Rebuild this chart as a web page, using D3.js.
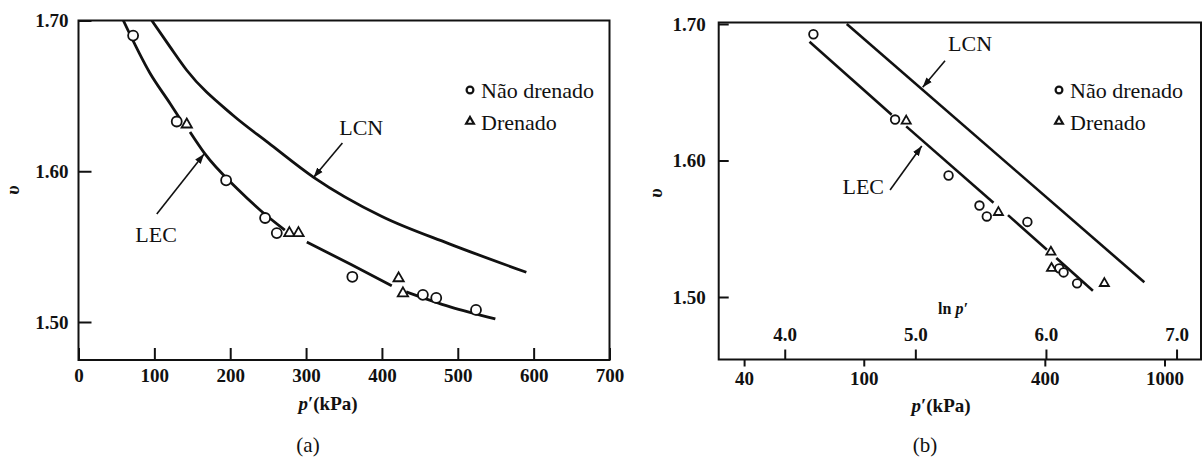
<!DOCTYPE html>
<html>
<head>
<meta charset="utf-8">
<script src="https://cdn.jsdelivr.net/npm/d3@7"></script>
<style>
  body { margin: 0; background: #fff; }
  svg { display: block; }
  svg text { font-family: "Liberation Serif", "DejaVu Serif", serif !important; fill: #111; }
  .tick line { stroke: #111; stroke-width: 2; }
  .tick text { font-size: 19px; font-weight: bold; }
</style>
</head>
<body>
<svg id="chart" width="1203" height="459" font-family="Liberation Serif"></svg>
<script>
// ---- dados ----

// eixos
const yTicks = [1.50, 1.60, 1.70];
const xTicksA = [0, 100, 200, 300, 400, 500, 600, 700];
const xTicksB = [40, 100, 400, 1000];
const lnTicksB = [4.0, 5.0, 6.0, 7.0];

// (a) p' (kPa) x v
const naoDrenadoA = [[72, 1.690], [129.5, 1.633], [194.6, 1.594], [246, 1.569], [261.4, 1.559],
                     [361, 1.530], [454, 1.518], [471.6, 1.516], [524, 1.508]];
const drenadoA = [[142.7, 1.631], [278, 1.559], [290, 1.559], [422, 1.529], [427.7, 1.519]];
// LEC desenhada com interrupções onde estão os pontos
const lecA = [
    [[59.1, 1.700], [94.3, 1.665], [120.7, 1.645], [133.6, 1.635]],
    [[147, 1.626], [166, 1.612], [210, 1.588], [240, 1.574], [272, 1.561]],
    [[301, 1.553], [360, 1.538], [413, 1.524]],
    [[432, 1.520], [490, 1.510], [549.5, 1.502]]
];
const lcnA = [[96.6, 1.700], [120, 1.683], [142.7, 1.667], [204, 1.637], [250, 1.619],
              [310, 1.596], [400, 1.570], [488, 1.552], [590.4, 1.533]];

// (b) p' (kPa, escala ln) x v
const naoDrenadoB = [[68, 1.6925], [127.1, 1.630], [191.4, 1.589], [242.5, 1.567], [256.5, 1.559],
                     [350, 1.555], [446.6, 1.521], [461.7, 1.518], [512, 1.510]];
const drenadoB = [[138.4, 1.629], [280.4, 1.562], [419, 1.533], [421, 1.521], [631, 1.510]];
const lecB = [
    [[66, 1.687], [123.8, 1.6335]],
    [[138.4, 1.625], [270, 1.569]],
    [[301.7, 1.560], [406.5, 1.5346]],
    [[436.8, 1.5286], [578, 1.5046]]
];
const lcnB = [[87.8, 1.700], [857, 1.5108]];

// setas e rótulos (coordenadas nos dados)
const rotulosA = [
    { text: "LEC", at: [102.3, 1.558], from: [103.2, 1.5716], to: [165.6, 1.6115] },
    { text: "LCN", at: [372.7, 1.6294], from: [347.9, 1.6187], to: [309.8, 1.5959] }
];
const rotulosB = [
    { text: "LEC", at: [99.6, 1.5813], from: [122.3, 1.5784], to: [155.9, 1.6106] },
    { text: "LCN", at: [225.6, 1.6859], from: [186.3, 1.6731], to: [157.0, 1.6536] }
];

const legenda = ["Não drenado", "Drenado"];

// ---- desenho ----
const FONTE = "Liberation Serif, DejaVu Serif, serif";
const svg = d3.select("#chart");

// ponta de seta
svg.append("defs").append("marker")
    .attr("id", "seta")
    .attr("viewBox", "0 0 10 10")
    .attr("refX", 10).attr("refY", 5)
    .attr("markerWidth", 10).attr("markerHeight", 10)
    .attr("markerUnits", "userSpaceOnUse")
    .attr("orient", "auto")
    .append("path")
    .attr("d", "M0,1.5 L10,5 L0,8.5 Z")
    .attr("fill", "#111");

function drawPanel(cfg)
{
    const g = svg.append("g");
    const { x, y, frame } = cfg;

    // clip para as curvas
    const clipId = "clip-" + cfg.name;
    svg.select("defs").append("clipPath").attr("id", clipId)
        .append("rect")
        .attr("x", frame.left).attr("y", frame.top)
        .attr("width", frame.right - frame.left).attr("height", frame.bottom - frame.top);

    // eixo y (marcas para dentro)
    g.append("g")
        .attr("transform", `translate(${frame.left},0)`)
        .call(d3.axisLeft(y).tickValues(yTicks).tickSizeInner(-cfg.yTickLen).tickSizeOuter(0)
            .tickPadding(cfg.yPad).tickFormat(d3.format(".2f")))
        .call(a => a.select(".domain").remove());

    cfg.xAxes(g);

    // moldura
    g.append("rect")
        .attr("x", frame.left).attr("y", frame.top)
        .attr("width", frame.right - frame.left).attr("height", frame.bottom - frame.top)
        .attr("fill", "none").attr("stroke", "#111").attr("stroke-width", 2);

    const line = d3.line()
        .x(d => x(d[0]))
        .y(d => y(d[1]))
        .curve(d3.curveMonotoneX);

    const curvas = g.append("g").attr("clip-path", `url(#${clipId})`);

    // LCN
    curvas.append("path")
        .attr("d", line(cfg.lcn))
        .attr("fill", "none").attr("stroke", "#111").attr("stroke-width", cfg.lineW);

    // LEC
    cfg.lec.forEach(seg => {
        curvas.append("path")
            .attr("d", line(seg))
            .attr("fill", "none").attr("stroke", "#111").attr("stroke-width", cfg.lineW);
    });

    // pontos não drenados
    g.selectAll(null).data(cfg.naoDrenado).join("circle")
        .attr("cx", d => x(d[0]))
        .attr("cy", d => y(d[1]))
        .attr("r", cfg.r)
        .attr("fill", "#fff").attr("stroke", "#111").attr("stroke-width", 1.8);

    // pontos drenados
    const tri = d3.symbol(d3.symbolTriangle, cfg.triSize);
    g.selectAll(null).data(cfg.drenado).join("path")
        .attr("d", tri)
        .attr("transform", d => `translate(${x(d[0])},${y(d[1])})`)
        .attr("fill", "#fff").attr("stroke", "#111").attr("stroke-width", 1.8);

    // rótulos com seta
    cfg.rotulos.forEach(r => {
        g.append("line")
            .attr("x1", x(r.from[0])).attr("y1", y(r.from[1]))
            .attr("x2", x(r.to[0])).attr("y2", y(r.to[1]))
            .attr("stroke", "#111").attr("stroke-width", 1.6)
            .attr("marker-end", "url(#seta)");
        g.append("text")
            .attr("x", x(r.at[0])).attr("y", y(r.at[1]))
            .attr("dy", "0.35em")
            .attr("text-anchor", "middle")
            .attr("font-size", 22)
            .text(r.text);
    });

    // legenda
    const leg = g.append("g").attr("transform", `translate(${cfg.legend[0]},${cfg.legend[1]})`);
    leg.append("circle")
        .attr("cx", 0).attr("cy", 0).attr("r", 3.4)
        .attr("fill", "#fff").attr("stroke", "#111").attr("stroke-width", 2.2);
    leg.append("path")
        .attr("d", d3.symbol(d3.symbolTriangle, 26)())
        .attr("transform", "translate(0,31.5)")
        .attr("fill", "#fff").attr("stroke", "#111").attr("stroke-width", 2.2);
    legenda.forEach((t, i) => {
        leg.append("text")
            .attr("x", 11).attr("y", i * 31.5 + 8)
            .attr("font-size", 22)
            .text(t);
    });

    // título do eixo y
    g.append("text")
        .attr("transform", `translate(${cfg.yLabel[0]},${cfg.yLabel[1]}) rotate(-90)`)
        .attr("text-anchor", "middle")
        .attr("dy", "0.35em")
        .attr("font-size", 19).attr("font-weight", "bold").attr("font-style", "italic")
        .text("υ");

    // título do eixo x
    const xt = g.append("text")
        .attr("x", cfg.xLabel[0]).attr("y", cfg.xLabel[1])
        .attr("text-anchor", "middle")
        .attr("font-size", 19).attr("font-weight", "bold");
    xt.append("tspan").attr("font-style", "italic").text("p");
    xt.append("tspan").text("′(kPa)");

    // legenda do painel
    g.append("text")
        .attr("x", cfg.caption[0]).attr("y", cfg.caption[1])
        .attr("text-anchor", "middle")
        .attr("font-size", 21)
        .text(cfg.name === "a" ? "(a)" : "(b)");

    // fonte serifada em todos os textos (os eixos do d3 usam sans-serif)
    g.selectAll("g").attr("font-family", FONTE);
    g.selectAll("text").attr("font-family", FONTE);
}

// painel (a): escala linear
const frameA = { left: 78.5, right: 609.5, top: 20.5, bottom: 360 };
const xA = d3.scaleLinear().domain([0, 700]).range([78.5, 609.5]);
const yA = d3.scaleLinear().domain([1.50, 1.70]).range([322, 20.5]);

drawPanel({
    name: "a", x: xA, y: yA, frame: frameA,
    yTickLen: 13, yPad: 10, lineW: 2.8, r: 5, triSize: 46,
    lcn: lcnA, lec: lecA, naoDrenado: naoDrenadoA, drenado: drenadoA, rotulos: rotulosA,
    legend: [470, 90], yLabel: [12, 190], xLabel: [328, 410], caption: [308, 452],
    xAxes: g => {
        g.append("g")
            .attr("transform", `translate(0,${frameA.bottom})`)
            .call(d3.axisBottom(xA).tickValues(xTicksA).tickSizeInner(-12).tickSizeOuter(0)
                .tickPadding(9).tickFormat(d3.format("d")))
            .call(a => a.select(".domain").remove());
    }
});

// painel (b): escala logarítmica em p' com ln p' no topo do eixo
const frameB = { left: 718.7, right: 1201, top: 22.5, bottom: 359.5 };
const xB = d3.scaleLog().domain([40, 1000]).range([744.1, 1164.5]);
const yB = d3.scaleLinear().domain([1.50, 1.70]).range([297, 24]);
const lnB = d3.scaleLinear().domain([4, 7]).range([xB(Math.exp(4)), xB(Math.exp(7))]);

drawPanel({
    name: "b", x: xB, y: yB, frame: frameB,
    yTickLen: 10, yPad: 13, lineW: 2.6, r: 4.3, triSize: 36,
    lcn: lcnB, lec: lecB, naoDrenado: naoDrenadoB, drenado: drenadoB, rotulos: rotulosB,
    legend: [1059, 90], yLabel: [655, 193], xLabel: [941, 412], caption: [925, 452],
    xAxes: g => {
        g.append("g")
            .attr("transform", `translate(0,${frameB.bottom})`)
            .call(d3.axisBottom(xB).tickValues(xTicksB).tickSizeInner(7).tickSizeOuter(0)
                .tickPadding(5).tickFormat(d3.format("d")))
            .call(a => a.select(".domain").remove())
            .call(a => a.selectAll(".tick text").attr("font-size", 18));
        g.append("g")
            .attr("transform", `translate(0,${frameB.bottom})`)
            .call(d3.axisTop(lnB).tickValues(lnTicksB).tickSizeInner(10).tickSizeOuter(0)
                .tickPadding(9).tickFormat(d3.format(".1f")))
            .call(a => a.select(".domain").remove())
            .call(a => a.selectAll(".tick text").attr("font-size", 18).attr("font-weight", "normal"));
        const ln = g.append("text")
            .attr("x", 953).attr("y", 314)
            .attr("text-anchor", "middle")
            .attr("font-size", 16).attr("font-weight", "bold");
        ln.append("tspan").text("ln ");
        ln.append("tspan").attr("font-style", "italic").text("p′");
    }
});
</script>
</body>
</html>
